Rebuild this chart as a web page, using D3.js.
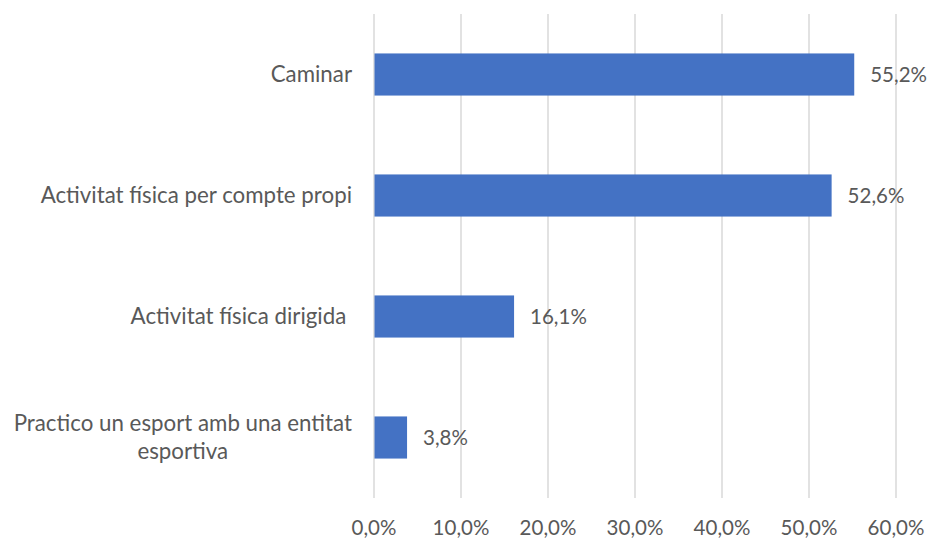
<!DOCTYPE html>
<html><head><meta charset="utf-8">
<script src="https://cdn.jsdelivr.net/npm/d3@7"></script>
<style>body{margin:0;background:#fff}svg{display:block}text{font-family:Lato,"Open Sans",sans-serif;fill:#595959;white-space:pre}</style>
</head><body><svg id="c" width="931" height="539"></svg>
<script>
const categories = [["Caminar"],["Activitat física per compte propi"],["Activitat física dirigida "],["Practico un esport amb una entitat","esportiva"]];
const values = [55.2, 52.6, 16.1, 3.8];
const valueLabels = ["55,2%","52,6%","16,1%","3,8%"];
const ticks = [0,10,20,30,40,50,60];
const tickLabels = ["0,0%","10,0%","20,0%","30,0%","40,0%","50,0%","60,0%"];

const svg = d3.select("#c");
const fsNum = 20.5, fsCat = 22.3;
const x = d3.scaleLinear().domain([0,60]).range([374,896]);
const y = d3.scaleBand().domain(d3.range(categories.length)).range([14,498]).paddingInner(0.652).paddingOuter(0.326);

svg.append("g").selectAll("line").data(ticks).join("line")
  .attr("x1",d=>x(d)).attr("x2",d=>x(d)).attr("y1",14).attr("y2",498)
  .attr("stroke","#d9d9d9").attr("stroke-width",1.5);

svg.append("g").selectAll("text").data(ticks).join("text")
  .attr("x",d=>x(d)).attr("y",535).attr("text-anchor","middle").attr("font-size",fsNum)
  .text((d,i)=>tickLabels[i]);

svg.append("g").selectAll("rect").data(values).join("rect")
  .attr("x",x(0)+0.5).attr("y",(d,i)=>y(i)).attr("width",d=>x(d)-x(0)-0.5).attr("height",y.bandwidth())
  .attr("fill","#4472C4");

svg.append("g").selectAll("text").data(values).join("text")
  .attr("x",d=>x(d)+16).attr("y",(d,i)=>y(i)+y.bandwidth()/2).attr("dy","0.35em").attr("font-size",fsNum)
  .text((d,i)=>valueLabels[i]);

const lh = 28;
categories.forEach((lines,i)=>{
  const cy = y(i)+y.bandwidth()/2;
  const t = svg.append("text").attr("font-size",fsCat).attr("text-anchor","middle");
  const ts = lines.map((l,j)=>t.append("tspan").attr("y",cy+(j-(lines.length-1)/2)*lh).attr("dy","0.35em").text(l));
  let w = 0; ts.forEach(s=>{w=Math.max(w,s.node().getComputedTextLength());});
  ts.forEach(s=>s.attr("x",352-w/2));
});
</script></body></html>
